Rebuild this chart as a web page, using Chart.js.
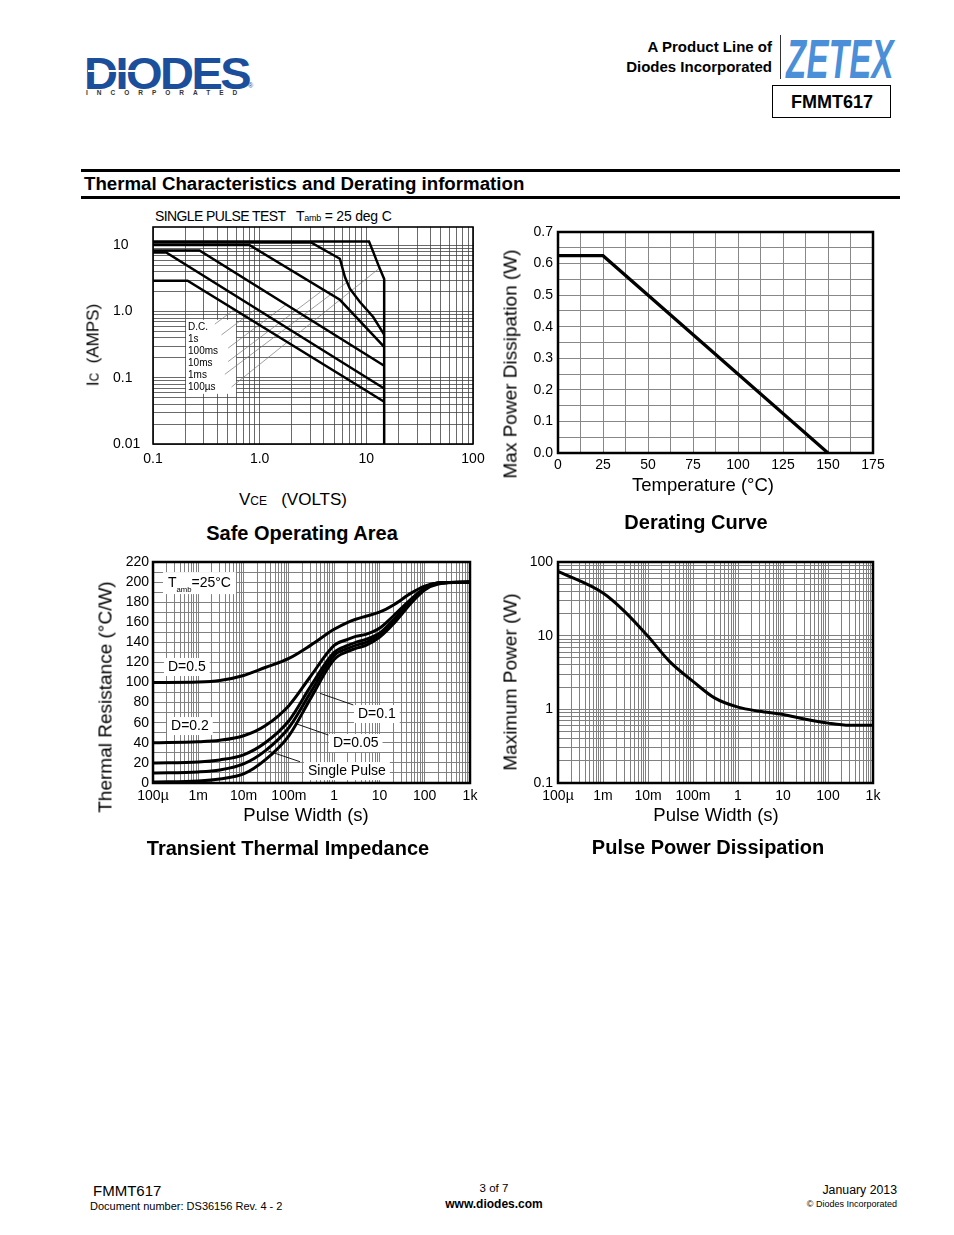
<!DOCTYPE html>
<html>
<head>
<meta charset="utf-8">
<title>FMMT617 - Thermal Characteristics</title>
<script src="https://cdn.jsdelivr.net/npm/chart.js@4.4.1/dist/chart.umd.min.js"></script>
<style>
body{margin:0;background:#fff;font-family:"Liberation Sans",Arial,Helvetica,sans-serif;color:#000}
#page{position:relative;width:954px;height:1235px;overflow:hidden;background:#fff}
.t{position:absolute;white-space:nowrap;line-height:1}
.c{transform:translate(-50%,-50%)}
.r{transform:translate(-100%,-50%)}
.l{transform:translateY(-50%)}
.v{transform:translate(-50%,-50%) rotate(-90deg)}
.b{font-weight:bold}
.box{position:absolute}
.rule{position:absolute;left:81px;width:819px;height:3px;background:#000}
</style>
</head>
<body>
<div id="page">

  <!-- header -->
  <div class="t b" style="left:84px;top:50px;font-size:47px;color:#1b4f9b;letter-spacing:-2.5px;transform:scaleY(0.95)">DIODES</div>
  <div style="position:absolute;left:88px;top:70px;width:62px;height:2px;background:#fff"></div>
  <div class="t" style="left:248px;top:82px;font-size:7px;color:#1b4f9b">&reg;</div>
  <div class="t b" style="left:86px;top:90px;font-size:6.5px;letter-spacing:9px;color:#333">INCORPORATED</div>

  <div class="t b r" style="left:772px;top:46px;font-size:15px">A Product Line of</div>
  <div class="t b r" style="left:772px;top:66px;font-size:15px">Diodes Incorporated</div>
  <div style="position:absolute;left:780px;top:35px;width:1px;height:44px;background:#333"></div>
  <div class="t b" style="left:786px;top:32px;font-size:55px;font-style:italic;color:#4a8fd8;transform:scaleX(0.6);transform-origin:0 0;letter-spacing:0.5px">ZETEX</div>
  <div style="position:absolute;left:772px;top:85px;width:117px;height:31px;border:1.5px solid #000"></div>
  <div class="t b c" style="left:832px;top:102px;font-size:18px">FMMT617</div>

  <div class="rule" style="top:169px"></div>
  <div class="t b l" style="left:84px;top:184px;font-size:18.7px">Thermal Characteristics and Derating information</div>
  <div class="rule" style="top:196px"></div>

  <!-- safe operating area -->
  <div class="t l" style="left:155px;top:216px;font-size:14px;letter-spacing:-0.6px">SINGLE PULSE TEST</div>
  <div class="t l" style="left:296px;top:216px;font-size:14px;letter-spacing:-0.2px">T<span style="font-size:9px;letter-spacing:-0.3px">amb</span> = 25 deg C</div>
  <div class="box" style="left:100px;top:215px;width:390px;height:265px"><canvas id="soaChart"></canvas></div>
  <div class="t v" style="left:93px;top:345px;font-size:17px">I<span style="font-size:12px">C</span>&nbsp; (AMPS)</div>
  <div class="t c" style="left:293px;top:499px;font-size:17px">V<span style="font-size:12px">CE</span>&nbsp;&nbsp; (VOLTS)</div>
  <div class="t b c" style="left:302px;top:533px;font-size:20px">Safe Operating Area</div>

  <!-- derating -->
  <div class="box" style="left:505px;top:220px;width:400px;height:260px"><canvas id="deratingChart"></canvas></div>
  <div class="t v" style="left:510px;top:364px;font-size:19px">Max Power Dissipation (W)</div>
  <div class="t c" style="left:703px;top:485px;font-size:18.5px">Temperature (°C)</div>
  <div class="t b c" style="left:696px;top:522px;font-size:20px">Derating Curve</div>

  <!-- transient thermal impedance -->
  <div class="box" style="left:90px;top:550px;width:395px;height:260px"><canvas id="transientChart"></canvas></div>
  <div class="t v" style="left:105px;top:697px;font-size:19px">Thermal Resistance (°C/W)</div>
  <div class="t c" style="left:306px;top:815px;font-size:18.5px">Pulse Width (s)</div>
  <div class="t b c" style="left:288px;top:848px;font-size:20px">Transient Thermal Impedance</div>

  <!-- pulse power -->
  <div class="box" style="left:505px;top:550px;width:400px;height:260px"><canvas id="pulseChart"></canvas></div>
  <div class="t v" style="left:510px;top:682px;font-size:19px">Maximum Power (W)</div>
  <div class="t c" style="left:716px;top:815px;font-size:18.5px">Pulse Width (s)</div>
  <div class="t b c" style="left:708px;top:847px;font-size:20px">Pulse Power Dissipation</div>

  <!-- footer -->
  <div class="t l" style="left:93px;top:1190px;font-size:15px">FMMT617</div>
  <div class="t l" style="left:90px;top:1206px;font-size:11px">Document number: DS36156 Rev. 4 - 2</div>
  <div class="t c" style="left:494px;top:1189px;font-size:11.5px">3 of 7</div>
  <div class="t b c" style="left:494px;top:1204px;font-size:12px">www.diodes.com</div>
  <div class="t r" style="left:897px;top:1190px;font-size:12.3px">January 2013</div>
  <div class="t r" style="left:897px;top:1204px;font-size:9px">© Diodes Incorporated</div>
</div>

<script>
// ---- Safe operating area: [VCE (V), IC (A)] ----
var soaDC    = [[0.1,2.93],[0.211,2.93],[14.7,0.0435]];
var soa1s    = [[0.1,7.84],[0.133,7.84],[14.7,0.069]];
var soa100ms = [[0.1,8.4],[0.273,8.4],[14.7,0.152]];
var soa10ms  = [[0.1,10.2],[0.8,10.2],[5.65,1.51],[14.7,0.293]];
var soa1ms   = [[0.1,11.1],[3.03,11.1],[5.65,6.3],[6.3,3.33],[7.01,2.22],[8.71,1.40],[11.6,0.83],[14.7,0.45]];
var soa100us = [[0.1,11.5],[10.6,11.5],[11.6,8.0],[13.0,5.0],[14.7,3.1],[14.7,0.01]];
var soaNames = ['D.C.','1s','100ms','10ms','1ms','100µs'];
// leader lines from the label box to each curve
var soaLeaders = [
  [[0.380,0.647],[0.578,1.076]],
  [[0.439,0.446],[0.931,1.11]],
  [[0.506,0.281],[1.77,1.28]],
  [[0.506,0.176],[3.96,2.14]],
  [[0.472,0.113],[6.57,2.77]],
  [[0.545,0.0728],[13.3,4.55]]
];
var soaYTicks = [10, 1, 0.1, 0.01];
var soaYText  = ['10', '1.0', '0.1', '0.01'];
var soaXTicks = [0.1, 1, 10, 100];
var soaXText  = ['0.1', '1.0', '10', '100'];

// ---- Derating curve ----
var derTemp  = [0, 25, 150];
var derPower = [0.625, 0.625, 0];

// ---- Transient thermal impedance (°C/W) ----
var pulseWidth = [1e-4,1e-3,3e-3,1e-2,3e-2,0.1,0.3,1,2,3,5,10,20,50,100,200,1000];
var rthD05    = [100,100.5,102,107,115,124,137,153,160,163,166,170,177,189,196,199,200];
var rthD02    = [40,41,42.5,47,57,77,106,137,143,146,148,154,166,183,194,199,200];
var rthD01    = [20,21,23,28,40,62,96,130,137,140,143,149,162,181,193,199,200];
var rthD005   = [10,11,13,19,32,55,90,127,134,137,140,147,160,180,193,199,200];
var rthSingle = [1,2,4,9,23,47,84,123,131,134,137,145,158,179,192,198,200];
var rthLeaders = [
  [[2.65,77.7],[0.486,89.3]],
  [[0.743,47.8],[0.136,59.4]],
  [[0.176,21.2],[0.035,31.9]]
];

// ---- Pulse power dissipation (W) ----
var ppWidth = [1e-4,1e-3,3e-3,1e-2,3e-2,0.1,0.3,1,3,10,30,100,300,1000];
var ppPower = [74.7,37.9,21.4,9.8,4.48,2.4,1.43,1.07,0.94,0.85,0.74,0.65,0.607,0.607];

var pwTicks = [1e-4,1e-3,1e-2,0.1,1,10,100,1000];
var pwText  = ['100µ','1m','10m','100m','1','10','100','1k'];
var ppYTicks = [0.1, 1, 10, 100];
var ppYText  = ['0.1', '1', '10', '100'];

var FONT = '"Liberation Sans", Arial, Helvetica, sans-serif';
Chart.defaults.font.family = FONT;
Chart.defaults.font.size = 14;
Chart.defaults.color = '#000';
Chart.defaults.animation = false;
Chart.defaults.responsive = true;
Chart.defaults.maintainAspectRatio = false;
Chart.defaults.plugins.legend.display = false;
Chart.defaults.plugins.tooltip.enabled = false;

function pts(xs, ys){ return xs.map(function(x, i){ return {x: x, y: ys[i]}; }); }
function pairs(list){ return list.map(function(p){ return {x: p[0], y: p[1]}; }); }

function curve(data, w, smooth){
  return {data: data, showLine: true, borderColor: '#000', backgroundColor: '#000',
          borderWidth: w, pointRadius: 0, fill: false,
          cubicInterpolationMode: smooth ? 'monotone' : 'default', tension: 0};
}
function leader(data, color, w){
  return {data: data, showLine: true, borderColor: color, borderWidth: w, pointRadius: 0, fill: false};
}

function labelFor(vals, texts){
  return function(v){
    for (var i = 0; i < vals.length; i++) if (Math.abs(v / vals[i] - 1) < 1e-6) return texts[i];
    return '';
  };
}

// 1..9 per decade, for log gridlines
function logTicks(min, max){
  var out = [];
  for (var e = Math.floor(Math.log10(min)); e <= Math.ceil(Math.log10(max)); e++){
    for (var m = 1; m < 10; m++){
      var v = parseFloat((m * Math.pow(10, e)).toPrecision(3));
      if (v >= min * 0.999 && v <= max * 1.001) out.push({value: v});
    }
  }
  return out;
}

function fixX(h){ return function(s){ s.height = h; s.paddingLeft = 0; s.paddingRight = 0; }; }
function fixY(w){ return function(s){ s.width = w; s.paddingTop = 0; s.paddingBottom = 0; }; }

// white boxes with text, placed in data coordinates
function fontOf(size){ return size + 'px ' + FONT; }
function lineWidthOf(ctx, line, size){
  var w = 0;
  line.forEach(function(r){
    var sub = typeof r !== 'string';
    ctx.font = fontOf(sub ? size * 0.55 : size);
    w += ctx.measureText(sub ? r.sub : r).width;
  });
  return w;
}
function drawLine(ctx, line, x, y, size){
  line.forEach(function(r){
    var sub = typeof r !== 'string';
    var t = sub ? r.sub : r;
    ctx.font = fontOf(sub ? size * 0.55 : size);
    ctx.fillText(t, x, sub ? y + size * 0.45 : y);
    x += ctx.measureText(t).width;
  });
}
var notesPlugin = {
  id: 'notes',
  beforeDatasetsDraw: function(chart, args, opts){
    var ctx = chart.ctx, sx = chart.scales.x, sy = chart.scales.y;
    (opts.items || []).forEach(function(it){
      var size = it.size, lh = it.lh;
      var x0 = sx.getPixelForValue(it.x), y0 = sy.getPixelForValue(it.y);
      ctx.save();
      var widths = it.lines.map(function(l){ return lineWidthOf(ctx, l, size); });
      var maxW = Math.max.apply(null, widths.concat([it.w || 0]));
      var left = it.align === 'center' ? x0 - maxW / 2 : x0;
      ctx.fillStyle = '#fff';
      ctx.fillRect(left - it.padX, y0 - lh / 2 - it.padY, maxW + 2 * it.padX, lh * it.lines.length + 2 * it.padY);
      ctx.fillStyle = '#000';
      ctx.textBaseline = 'middle';
      ctx.textAlign = 'left';
      it.lines.forEach(function(l, i){
        var x = it.align === 'center' ? x0 - widths[i] / 2 : x0;
        drawLine(ctx, l, x, y0 + i * lh, size);
      });
      ctx.restore();
    });
  }
};
var framePlugin = {
  id: 'frame',
  afterDatasetsDraw: function(chart, args, opts){
    var a = chart.chartArea, ctx = chart.ctx;
    ctx.save();
    ctx.strokeStyle = '#000';
    ctx.lineWidth = opts.width;
    ctx.strokeRect(a.left, a.top, a.right - a.left, a.bottom - a.top);
    ctx.restore();
  }
};

// ---- Safe operating area ----
var soaSets = [soaDC, soa1s, soa100ms, soa10ms, soa1ms, soa100us].map(function(c){ return curve(pairs(c), 2.5, false); });
soaLeaders.forEach(function(l){ soaSets.push(leader(pairs(l), '#777', 0.7)); });
new Chart(document.getElementById('soaChart'), {
  type: 'scatter',
  data: {datasets: soaSets},
  options: {
    layout: {padding: {left: 13, top: 12, right: 17, bottom: 0}},
    scales: {
      x: {type: 'logarithmic', min: 0.1, max: 100, afterFit: fixX(36),
          afterBuildTicks: function(s){ s.ticks = logTicks(0.1, 100); },
          grid: {color: '#444', lineWidth: 0.8, drawTicks: false}, border: {display: false},
          ticks: {autoSkip: false, maxRotation: 0, padding: 7, callback: labelFor(soaXTicks, soaXText)}},
      y: {type: 'logarithmic', min: 0.01, max: 19, afterFit: fixY(40),
          afterBuildTicks: function(s){ s.ticks = logTicks(0.01, 19); },
          grid: {color: '#444', lineWidth: 0.8, drawTicks: false}, border: {display: false},
          ticks: {autoSkip: false, crossAlign: 'far', padding: 0, callback: labelFor(soaYTicks, soaYText)}}
    },
    plugins: {
      notes: {items: [{x: 0.213, y: 0.589, size: 10, lh: 12, padX: 2, padY: 1, w: 46, align: 'left',
                       lines: soaNames.map(function(n){ return [n]; })}]},
      frame: {width: 1.6}
    }
  },
  plugins: [notesPlugin, framePlugin]
});

// ---- Derating curve ----
new Chart(document.getElementById('deratingChart'), {
  type: 'scatter',
  data: {datasets: [curve(pts(derTemp, derPower), 3.2, false)]},
  options: {
    layout: {padding: {left: 0, top: 12, right: 32, bottom: 0}},
    scales: {
      x: {type: 'linear', min: 0, max: 175, afterFit: fixX(27),
          grid: {color: '#888', lineWidth: 1, drawTicks: false}, border: {display: false},
          ticks: {stepSize: 12.5, autoSkip: false, maxRotation: 0, padding: 4,
                  callback: function(v){ return v % 25 === 0 ? String(v) : ''; }}},
      y: {type: 'linear', min: 0, max: 0.7, afterFit: fixY(53),
          grid: {color: '#888', lineWidth: 1, drawTicks: false}, border: {display: false},
          ticks: {stepSize: 0.05, autoSkip: false, padding: 5,
                  callback: function(v){ var t = v * 10; return Math.abs(t - Math.round(t)) < 1e-6 ? v.toFixed(1) : ''; }}}
    },
    plugins: {frame: {width: 2.5}}
  },
  plugins: [framePlugin]
});

// ---- Transient thermal impedance ----
var rthSets = [rthD05, rthD02, rthD01, rthD005, rthSingle].map(function(c){ return curve(pts(pulseWidth, c), 3, true); });
rthLeaders.forEach(function(l){ rthSets.push(leader(pairs(l), '#000', 0.9)); });
new Chart(document.getElementById('transientChart'), {
  type: 'scatter',
  data: {datasets: rthSets},
  options: {
    layout: {padding: {left: 0, top: 12, right: 15, bottom: 0}},
    scales: {
      x: {type: 'logarithmic', min: 1e-4, max: 1000, afterFit: fixX(27),
          afterBuildTicks: function(s){ s.ticks = logTicks(1e-4, 1000); },
          grid: {color: '#808080', lineWidth: 1, drawTicks: false}, border: {display: false},
          ticks: {autoSkip: false, maxRotation: 0, padding: 5, callback: labelFor(pwTicks, pwText)}},
      y: {type: 'linear', min: 0, max: 220, afterFit: fixY(63),
          grid: {color: '#808080', lineWidth: 1, drawTicks: false}, border: {display: false},
          ticks: {stepSize: 10, autoSkip: false, padding: 4,
                  callback: function(v){ return v % 20 === 0 ? String(v) : ''; }}}
    },
    plugins: {
      notes: {items: [
        {x: 2.14e-4, y: 199, size: 14, lh: 16, padX: 5, padY: 3, align: 'left', lines: [['T', {sub: 'amb'}, '=25°C']]},
        {x: 2.14e-4, y: 115.5, size: 14, lh: 16, padX: 4, padY: 1, align: 'left', lines: [['D=0.5']]},
        {x: 2.5e-4, y: 56.7, size: 14, lh: 16, padX: 4, padY: 1, align: 'left', lines: [['D=0.2']]},
        {x: 3.36, y: 68.7, size: 14, lh: 16, padX: 4, padY: 1, align: 'left', lines: [['D=0.1']]},
        {x: 0.942, y: 39.8, size: 14, lh: 16, padX: 4, padY: 1, align: 'left', lines: [['D=0.05']]},
        {x: 0.265, y: 11.9, size: 14, lh: 16, padX: 4, padY: 1, align: 'left', lines: [['Single Pulse']]}
      ]},
      frame: {width: 2.5}
    }
  },
  plugins: [notesPlugin, framePlugin]
});

// ---- Pulse power dissipation ----
new Chart(document.getElementById('pulseChart'), {
  type: 'scatter',
  data: {datasets: [curve(pts(ppWidth, ppPower), 3, true)]},
  options: {
    layout: {padding: {left: 0, top: 12, right: 32, bottom: 0}},
    scales: {
      x: {type: 'logarithmic', min: 1e-4, max: 1000, afterFit: fixX(27),
          afterBuildTicks: function(s){ s.ticks = logTicks(1e-4, 1000); },
          grid: {color: '#808080', lineWidth: 1, drawTicks: false}, border: {display: false},
          ticks: {autoSkip: false, maxRotation: 0, padding: 5, callback: labelFor(pwTicks, pwText)}},
      y: {type: 'logarithmic', min: 0.1, max: 100, afterFit: fixY(53),
          afterBuildTicks: function(s){ s.ticks = logTicks(0.1, 100); },
          grid: {color: '#808080', lineWidth: 1, drawTicks: false}, border: {display: false},
          ticks: {autoSkip: false, padding: 5, callback: labelFor(ppYTicks, ppYText)}}
    },
    plugins: {
      notes: {items: [{x: 57, y: 40.4, size: 14, lh: 17, padX: 6, padY: 2, align: 'center',
                       lines: [['Single Pulse'], ['T', {sub: 'amb'}, '=25°C']]}]},
      frame: {width: 2.5}
    }
  },
  plugins: [framePlugin]
});
</script>
</body>
</html>
